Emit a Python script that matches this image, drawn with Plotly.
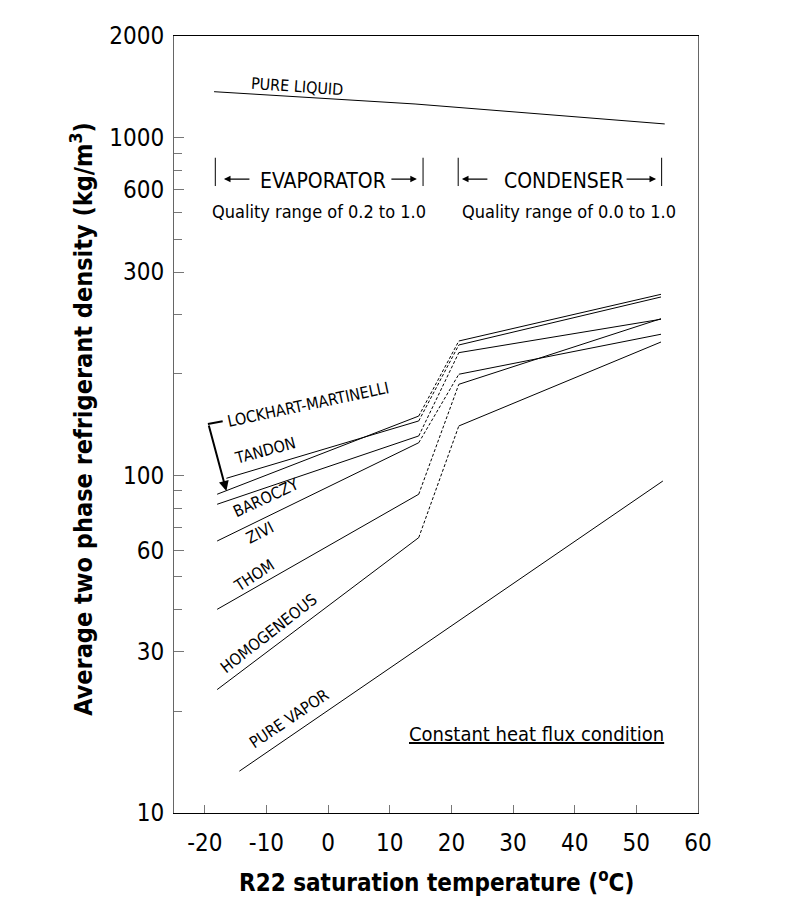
"""R22 two phase density versus saturation temperature for several void fraction correlations."""

import numpy as np
import plotly.graph_objects as go


FONT = "DejaVu Sans Condensed, DejaVu Sans, sans-serif"

# saturation temperature (deg C) at the ends of the evaporator / condenser segments
evap_temp = [-18.0, 14.7]
evap_temp_tandon = [-16.5, 14.7]
cond_temp = [21.2, 54.0]

# average two phase refrigerant density (kg/m3)
lockhart_evap = [87.9, 149.8]
lockhart_cond = [249.9, 343.6]
tandon_evap = [98.0, 144.9]
tandon_cond = [243.2, 337.4]
baroczy_evap = [82.1, 130.8]
baroczy_cond = [230.8, 289.9]
zivi_evap = [63.9, 124.9]
zivi_cond = [199.2, 261.7]
thom_evap = [40.1, 87.9]
thom_cond = [186.0, 291.0]
homogeneous_evap = [23.2, 65.4]
homogeneous_cond = [140.0, 248.2]

# saturated liquid and vapor
liquid_temp = [-18.5, 14.1, 54.6]
liquid_density = [1368, 1258, 1098]
vapor_temp = [-14.4, 54.3]
vapor_density = [13.3, 96.2]

# axis ticks as printed on the original figure
y_tickvals = [10, 30, 60, 100, 400, 700, 1000, 2000]
y_ticktext = ["10", "30", "60", "100", "300", "600", "1000", "2000"]
y_minor = [20, 40, 50, 70, 80, 90, 200, 300, 500, 600, 800, 900]
x_tickvals = [-20, -10, 0, 10, 20, 30, 40, 50, 60]
x_ticktext = ["-20", "-10", "0", "10", "20", "30", "40", "50", "60"]

two_phase = [
    ("LOCKHART-MARTINELLI", evap_temp, lockhart_evap, lockhart_cond),
    ("TANDON", evap_temp_tandon, tandon_evap, tandon_cond),
    ("BAROCZY", evap_temp, baroczy_evap, baroczy_cond),
    ("ZIVI", evap_temp, zivi_evap, zivi_cond),
    ("THOM", evap_temp, thom_evap, thom_cond),
    ("HOMOGENEOUS", evap_temp, homogeneous_evap, homogeneous_cond),
]

solid = dict(color="black", width=1)
dotted = dict(color="black", width=1, dash="3px,2px")

fig = go.Figure()

for name, t_evap, d_evap, d_cond in two_phase:
    fig.add_trace(go.Scatter(x=t_evap, y=d_evap, mode="lines", line=solid, name=name))
    fig.add_trace(go.Scatter(x=cond_temp, y=d_cond, mode="lines", line=solid, name=name))
    # transition between evaporator and condenser
    fig.add_trace(
        go.Scatter(
            x=[t_evap[-1], cond_temp[0]],
            y=[d_evap[-1], d_cond[0]],
            mode="lines",
            line=dotted,
            name=name,
        )
    )

fig.add_trace(go.Scatter(x=liquid_temp, y=liquid_density, mode="lines", line=solid, name="PURE LIQUID"))
fig.add_trace(go.Scatter(x=vapor_temp, y=vapor_density, mode="lines", line=solid, name="PURE VAPOR"))

# end bars of the evaporator / condenser ranges
for xb in [-18.3, 15.4, 21.1, 54.1]:
    fig.add_trace(go.Scatter(x=[xb, xb], y=[719, 872], mode="lines", line=solid, hoverinfo="skip"))

# little bracket of the Lockhart-Martinelli pointer
fig.add_trace(
    go.Scatter(x=[-19.5, -17.1], y=[142.0, 144.5], mode="lines", line=dict(color="black", width=2), hoverinfo="skip")
)

annotations = []

# curve labels: text, x, density, angle
labels = [
    ("PURE LIQUID", -5.1, 1422, 4),
    ("LOCKHART-MARTINELLI", -3.2, 161.6, -12),
    ("TANDON", -10.2, 118.1, -15),
    ("BAROCZY", -10.0, 85.7, -25),
    ("ZIVI", -11.0, 67.5, -27),
    ("THOM", -12.0, 50.4, -33),
    ("HOMOGENEOUS", -9.7, 34.1, -38),
    ("PURE VAPOR", -6.3, 19.1, -34),
]
for text, x, y, angle in labels:
    annotations.append(
        dict(
            text=text, x=x, y=np.log10(y), xref="x", yref="y",
            xanchor="center", yanchor="middle",
            showarrow=False, textangle=angle, font=dict(size=16, color="black"),
        )
    )

# region headers
for text, x in [("EVAPORATOR", -0.9), ("CONDENSER", 38.2)]:
    annotations.append(
        dict(
            text=text, x=x, y=np.log10(744), xref="x", yref="y", xanchor="center", yanchor="middle",
            showarrow=False, font=dict(size=21, color="black"),
        )
    )
for text, x in [("Quality range of 0.2 to 1.0", -1.4), ("Quality range of 0.0 to 1.0", 39.0)]:
    annotations.append(
        dict(
            text=text, x=x, y=np.log10(606), xref="x", yref="y", xanchor="center", yanchor="middle",
            showarrow=False, font=dict(size=18, color="black"),
        )
    )

# horizontal arrows: head x, tail offset in px
for x_head, ax in [(-16.9, 27), (14.4, -27), (21.7, 27), (53.2, -31)]:
    annotations.append(
        dict(
            text="", x=x_head, y=np.log10(754), xref="x", yref="y",
            ax=ax, ay=0, showarrow=True, arrowhead=2, arrowsize=1.1, arrowwidth=1.2, arrowcolor="black",
        )
    )

# Lockhart-Martinelli pointer arrow
annotations.append(
    dict(
        text="", x=-16.5, y=np.log10(89.9), xref="x", yref="y",
        ax=-18, ay=-67, showarrow=True, arrowhead=2, arrowsize=1.0, arrowwidth=2, arrowcolor="black",
    )
)

annotations.append(
    dict(
        text="<u>Constant heat flux condition</u>", x=33.8, y=np.log10(17.1), xref="x", yref="y",
        xanchor="center", yanchor="middle", showarrow=False, font=dict(size=20, color="black"),
    )
)

# axis titles
annotations.append(
    dict(
        text="<b>R22 saturation temperature (<sup>o</sup>C)</b>", x=0.5, y=-0.088,
        xref="paper", yref="paper", xanchor="center", yanchor="middle",
        showarrow=False, font=dict(size=24, color="black"),
    )
)
annotations.append(
    dict(
        text="<b>Average two phase refrigerant density (kg/m<sup>3</sup>)</b>", x=-0.176, y=0.507,
        xref="paper", yref="paper", xanchor="center", yanchor="middle",
        showarrow=False, textangle=-90, font=dict(size=25, color="black"),
    )
)

fig.update_layout(
    width=802,
    height=915,
    margin=dict(l=166, r=112, t=28, b=110),
    plot_bgcolor="white",
    paper_bgcolor="white",
    showlegend=False,
    font=dict(family=FONT, color="black"),
    annotations=annotations,
)

fig.update_xaxes(
    range=[-25, 60],
    tickvals=x_tickvals,
    ticktext=x_ticktext,
    ticks="inside",
    ticklen=8,
    tickcolor="#777",
    showgrid=False,
    zeroline=False,
    showline=True,
    mirror=True,
    linecolor="black",
    tickfont=dict(size=24),
    ticklabelstandoff=8,
)

fig.update_yaxes(
    type="log",
    range=[1, np.log10(2000)],
    tickvals=y_tickvals,
    ticktext=y_ticktext,
    ticks="inside",
    ticklen=10,
    tickcolor="#777",
    minor=dict(tickvals=y_minor, ticks="inside", ticklen=8, tickcolor="#777"),
    showgrid=False,
    zeroline=False,
    showline=True,
    mirror=True,
    linecolor="#666",
    tickfont=dict(size=24),
    ticklabelstandoff=4,
)

fig.write_html("out.html")
